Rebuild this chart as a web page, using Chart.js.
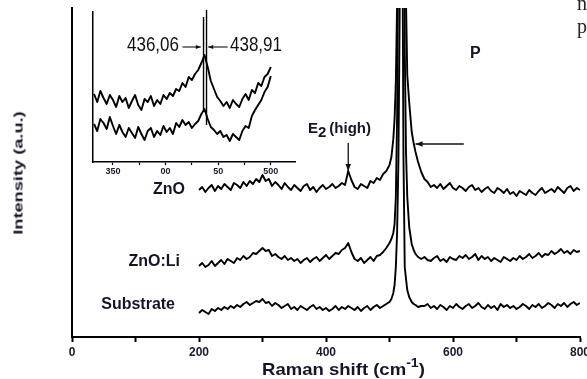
<!DOCTYPE html>
<html><head><meta charset="utf-8">
<script src="https://cdn.jsdelivr.net/npm/chart.js@4.4.1/dist/chart.umd.min.js"></script>
<style>
html,body{margin:0;padding:0;background:#fff;}
#wrap{position:relative;width:587px;height:379px;overflow:hidden;font-family:"Liberation Sans",Arial,sans-serif;color:#15152a;}
#main{position:absolute;left:0;top:0;}
#inset{position:absolute;left:88px;top:0;}
.lbl{position:absolute;white-space:nowrap;font-weight:bold;font-size:16px;line-height:16px;}
.num{position:absolute;white-space:nowrap;font-size:17px;line-height:17px;transform:scale(1,1.2);transform-origin:0 0;color:#111;}
</style></head><body>
<div id="wrap">
<canvas id="main" width="587" height="379"></canvas>
<canvas id="inset" width="215" height="185"></canvas>
<div class="lbl" style="right:402px;top:181px;">ZnO</div>
<div class="lbl" style="right:407px;top:253px;">ZnO:Li</div>
<div class="lbl" style="right:412px;top:296px;">Substrate</div>
<div class="lbl" style="left:308px;top:120px;font-size:15px;line-height:15px;">E<span style="position:relative;top:4px">2</span><span style="margin-left:3px">(high)</span></div>
<div class="lbl" style="left:470px;top:45px;">P</div>
<div class="num" style="left:127px;top:34px;">436,06</div>
<div class="num" style="left:230px;top:34px;">438,91</div>
<div style="position:absolute;left:577px;top:-8px;font-family:'Liberation Serif',serif;font-size:20px;line-height:23px;color:#222;">n<br>p</div>
<div class="lbl" style="left:17.5px;top:173px;font-size:13px;line-height:15px;transform:translate(-50%,-50%) rotate(-90deg) scale(1.4,1);">Intensity (a.u.)</div>
<div class="lbl" style="left:262px;top:361px;font-size:17px;line-height:17px;transform:scaleX(1.09);transform-origin:0 0;">Raman shift (cm<span style="position:relative;top:-8px;font-size:13px;">-1</span>)</div>
</div>
<script>
// ---------- main spectrum data (Raman shift in cm^-1, intensity in a.u.) ----------
const ramanShift = [
200,205,210,215,220,225,230,235,240,245,250,255,260,265,270,275,280,285,290,295,
300,305,310,315,320,325,330,335,340,345,350,355,360,365,370,375,380,385,390,395,
400,405,410,415,420,425,430,435,440,445,450,455,460,465,470,475,480,
485,490,495,500,503,506,508,510,512,514,516,518,519,520,521,522,524,526,528,531,535,538,541,545,550,
555,560,565,570,575,580,585,590,595,600,605,610,615,620,625,630,635,640,645,650,
655,660,665,670,675,680,685,690,695,700,705,710,715,720,725,730,735,740,745,750,
755,760,765,770,775,780,785,790,795,800];

const znoIntensity = [
147,150,145,149,152,146,151,148,153,150,147,154,152,149,155,151,156,153,158,155,
162,156,158,151,155,152,148,154,150,147,152,149,146,151,153,147,150,145,149,152,
148,150,153,149,151,154,152,166,157,150,148,153,151,149,156,154,159,
157,163,166,172,180,198,218,255,335,700,1500,2800,3300,3500,3100,2200,900,335,262,235,205,194,185,175,165,
158,155,150,152,149,153,148,151,154,149,147,151,149,146,150,152,147,149,145,148,
150,146,144,149,147,144,148,143,145,141,146,144,142,147,144,142,146,149,144,146,
148,145,150,147,144,149,151,146,149,147];

const znoLiIntensity = [
71,74,70,72,76,71,74,77,73,78,76,74,79,77,81,78,80,84,83,86,
89,86,87,81,83,80,78,81,77,79,76,78,74,77,79,75,78,80,76,79,
82,78,81,84,83,87,89,94,85,78,76,79,74,77,80,76,81,
82,85,89,94,98,104,113,140,220,420,900,1900,2600,3000,2500,1100,290,185,140,110,93,87,83,80,78,
80,77,76,79,81,76,78,75,80,78,77,81,79,82,78,80,83,77,81,78,
80,76,79,77,75,80,78,76,79,77,81,78,80,83,79,81,84,80,83,82,
86,83,85,88,84,86,83,87,85,86];

const substrateIntensity = [
24,27,25,23,28,26,29,27,30,28,31,29,32,30,33,35,32,34,36,35,
38,34,35,31,34,32,29,31,33,28,30,27,31,29,27,30,32,28,30,27,
29,26,28,31,27,30,28,31,29,27,30,26,29,31,27,30,32,
29,31,33,35,38,44,52,70,105,175,320,900,1500,1800,320,180,70,58,47,40,35,33,32,30,31,
31,33,29,31,28,32,30,27,31,29,33,30,28,31,33,29,31,34,30,28,
32,29,31,27,33,30,32,29,31,28,30,33,31,28,32,30,33,29,31,34,
32,29,33,31,34,30,33,35,32,34];

const xTickValues = [0,100,200,300,400,500,600,700,800];
const xTickLabels = ['0','','200','','400','','600','','800'];

// ---------- inset data ----------
const insetShift = [
332,335,338,341,344,347,350,353,356,359,362,365,368,371,374,377,380,383,386,389,
392,395,398,401,404,407,410,413,416,419,422,425,428,431,434,437,440,443,446,449,
452,455,458,461,464,467,470,473,476,479,482,485,488,491,494,497,500];
const insetUpper = [
68,60,71,64,58,67,62,55,66,60,64,54,61,67,57,52,63,60,66,56,
62,58,67,63,69,66,73,71,79,75,85,82,88,92,99,107,95,81,73,65,
61,56,60,54,62,58,55,63,68,62,72,69,79,76,85,88,95];
const insetLower = [
38,31,43,39,33,45,36,28,37,30,25,34,29,24,35,28,22,31,34,25,
31,27,36,30,34,28,39,35,42,37,40,34,38,41,48,53,43,35,32,28,
31,25,27,21,28,25,22,31,36,34,46,52,57,62,70,75,86];
const insetPeakPositions = [436.06, 438.91];
const insetPeakTop = [145, 152];
const insetPeakBottom = [52, 37];
const insetTickValues = [350,375,400,425,450,475,500];
const insetTickLabels = ['350','','00','','50','','500'];

// ---------- helpers ----------
function drawArrow(ctx,x1,y1,x2,y2,head,lw){
  ctx.save();
  ctx.strokeStyle='#111'; ctx.fillStyle='#111'; ctx.lineWidth=lw;
  ctx.beginPath(); ctx.moveTo(x1,y1); ctx.lineTo(x2,y2); ctx.stroke();
  const a=Math.atan2(y2-y1,x2-x1), w=head*0.4;
  ctx.beginPath(); ctx.moveTo(x2,y2);
  ctx.lineTo(x2-head*Math.cos(a)+w*Math.sin(a), y2-head*Math.sin(a)-w*Math.cos(a));
  ctx.lineTo(x2-head*Math.cos(a)-w*Math.sin(a), y2-head*Math.sin(a)+w*Math.cos(a));
  ctx.closePath(); ctx.fill();
  ctx.restore();
}
const arrowPlugin = {
  id:'arrows',
  afterDatasetsDraw(chart, args, opts){
    const {ctx, scales:{x,y}} = chart;
    (opts.items||[]).forEach(it=>{
      drawArrow(ctx, x.getPixelForValue(it.from[0]), y.getPixelForValue(it.from[1]),
                     x.getPixelForValue(it.to[0]), y.getPixelForValue(it.to[1]), it.head||6, it.lw||1.2);
    });
  }
};

function series(xs, ys){ return xs.map((v,i)=>({x:v,y:ys[i]})); }
const lineStyle = {borderColor:'#000', borderWidth:1.9, pointRadius:0, tension:0, borderJoinStyle:'round', fill:false};

Chart.defaults.font.family = "'Liberation Sans', Arial, sans-serif";

new Chart(document.getElementById('main'), {
  type:'line',
  data:{datasets:[
    Object.assign({data:series(ramanShift, znoIntensity)}, lineStyle),
    Object.assign({data:series(ramanShift, znoLiIntensity)}, lineStyle),
    Object.assign({data:series(ramanShift, substrateIntensity)}, lineStyle)
  ]},
  options:{
    responsive:false, animation:false, events:[],
    layout:{padding:{left:0,right:7,top:8,bottom:0}},
    plugins:{legend:{display:false}, tooltip:{enabled:false},
      arrows:{items:[
        {from:[435,194], to:[435,166], head:7, lw:1.3},
        {from:[617,193], to:[541,193], head:7, lw:1.3}
      ]}},
    scales:{
      x:{type:'linear', min:0, max:800,
        afterBuildTicks(s){ s.ticks = xTickValues.map(v=>({value:v})); },
        afterFit(s){ s.height = 42; s.paddingLeft = 0; s.paddingRight = 0; },
        ticks:{autoSkip:false, maxRotation:0, padding:3, color:'#1a1a2e',
          font:{size:12, weight:'bold'},
          callback:(v)=>{ const i = xTickValues.indexOf(v); return i>=0 ? xTickLabels[i] : ''; }},
        grid:{display:true, drawOnChartArea:false, drawTicks:true, tickLength:5, tickWidth:2, tickColor:'#000'},
        border:{display:true, color:'#000', width:2}
      },
      y:{type:'linear', min:0, max:329,
        afterFit(s){ s.width = 72; },
        ticks:{display:false}, grid:{display:false, drawTicks:false},
        border:{display:true, color:'#000', width:2}
      }
    }
  },
  plugins:[arrowPlugin]
});

const insetSets = [
  Object.assign({data:series(insetShift, insetUpper)}, lineStyle, {borderWidth:1.9}),
  Object.assign({data:series(insetShift, insetLower)}, lineStyle, {borderWidth:1.9})
];
insetPeakPositions.forEach((p,i)=>{
  insetSets.push({data:[{x:p,y:insetPeakTop[i]},{x:p,y:insetPeakBottom[i]}],
    borderColor:'#000', borderWidth:1.4, pointRadius:0, clip:false, fill:false});
});

new Chart(document.getElementById('inset'), {
  type:'line',
  data:{datasets:insetSets},
  options:{
    responsive:false, animation:false, events:[],
    layout:{padding:{left:0,right:8,top:12,bottom:0}},
    plugins:{legend:{display:false}, tooltip:{enabled:false},
      arrows:{items:[
        {from:[416,115], to:[433.5,115], head:5, lw:1.1},
        {from:[459,115], to:[440.5,115], head:5, lw:1.1}
      ]}},
    scales:{
      x:{type:'linear', min:331, max:523,
        afterBuildTicks(s){ s.ticks = insetTickValues.map(v=>({value:v})); },
        afterFit(s){ s.height = 23; s.paddingLeft = 0; s.paddingRight = 0; },
        ticks:{autoSkip:false, maxRotation:0, padding:1, color:'#1a1a2e',
          font:{size:9, weight:'bold'},
          callback:(v)=>{ const i = insetTickValues.indexOf(v); return i>=0 ? insetTickLabels[i] : ''; }},
        grid:{display:true, drawOnChartArea:false, drawTicks:true, tickLength:3, tickWidth:1.2, tickColor:'#000'},
        border:{display:true, color:'#000', width:1.5}
      },
      y:{type:'linear', min:0, max:150,
        afterFit(s){ s.width = 5; },
        ticks:{display:false}, grid:{display:false, drawTicks:false},
        border:{display:true, color:'#000', width:1.5}
      }
    }
  },
  plugins:[arrowPlugin]
});
</script>
</body></html>
